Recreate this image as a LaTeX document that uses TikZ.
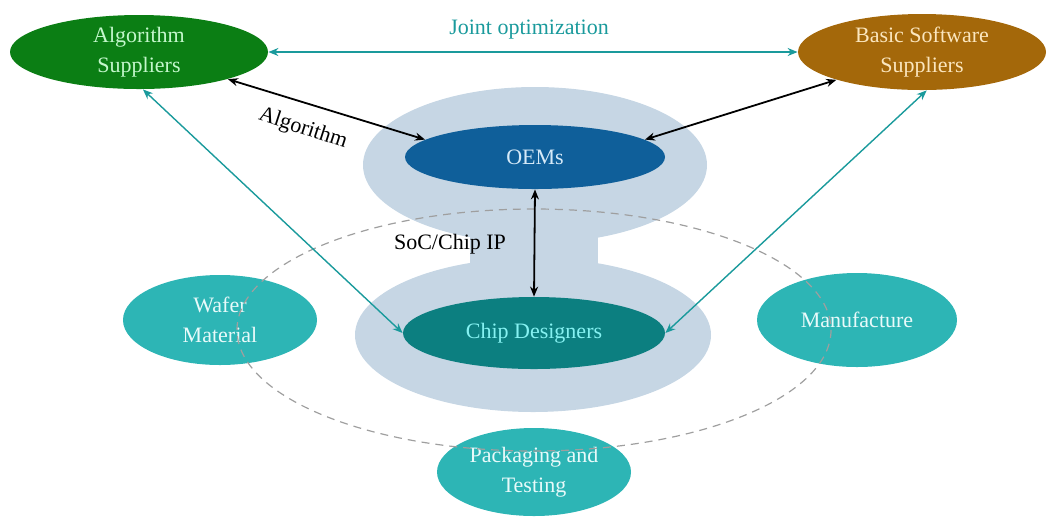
\documentclass[tikz,border=0pt]{standalone}
\usepackage{fontspec}
\setmainfont{Liberation Serif}
\usetikzlibrary{shapes.geometric,arrows.meta}
\definecolor{algGreen}{HTML}{0B7E14}
\definecolor{algText}{HTML}{C4F7CC}
\definecolor{bssBrown}{HTML}{A4680A}
\definecolor{bssText}{HTML}{FBE6BE}
\definecolor{oemBlue}{HTML}{0F5F9A}
\definecolor{oemText}{HTML}{D6EAF8}
\definecolor{cdTeal}{HTML}{0C7F80}
\definecolor{cdText}{HTML}{86F2F2}
\definecolor{sideTeal}{HTML}{2DB5B5}
\definecolor{sideText}{HTML}{E8FAFA}
\definecolor{hubBlue}{HTML}{C6D6E4}
\definecolor{linkTeal}{HTML}{1A9A9C}
\tikzset{
  bubble/.style={ellipse, inner sep=0pt, align=center, font=\fontsize{11}{15}\selectfont},
  link/.style={{Stealth[length=5pt,width=4pt]}-{Stealth[length=5pt,width=4pt]}, line width=0.9pt, black},
  tealink/.style={{Stealth[length=5pt,width=4pt]}-{Stealth[length=5pt,width=4pt]}, line width=0.7pt, linkTeal},
  lbl/.style={font=\fontsize{11}{13}\selectfont}
}
\begin{document}
\begin{tikzpicture}[x=0.5pt,y=-0.5pt]
\useasboundingbox (0,0) rectangle (1049,516);
% light blue hub shape behind OEMs and chip designers
\fill[hubBlue] (535,165) ellipse [x radius=172, y radius=78];
\fill[hubBlue] (533,335) ellipse [x radius=178, y radius=77];
\fill[hubBlue] (470,225) rectangle (598,272);
% side partners
\node[bubble, fill=sideTeal, text=sideText, minimum width=97pt, minimum height=45pt] (wafer) at (220,320) {Wafer\\Material};
\node[bubble, fill=sideTeal, text=sideText, minimum width=100pt, minimum height=47pt] (manu) at (857,320) {Manufacture};
\node[bubble, fill=sideTeal, text=sideText, minimum width=97pt, minimum height=44pt] (pack) at (534,472) {Packaging and\\Testing};
% dashed ring of the supply chain
\draw[gray!75, dashed, dash pattern=on 4pt off 3pt, line width=0.6pt] (534,330) ellipse [x radius=297, y radius=121];
% core players
\node[bubble, fill=algGreen, text=algText, minimum width=129pt, minimum height=37pt] (alg) at (139,52) {Algorithm\\Suppliers};
\node[bubble, fill=bssBrown, text=bssText, minimum width=124pt, minimum height=38pt] (bss) at (922,52) {Basic Software\\Suppliers};
\node[bubble, fill=oemBlue, text=oemText, minimum width=130pt, minimum height=32pt] (oem) at (535,157) {OEMs};
\node[bubble, fill=cdTeal, text=cdText, minimum width=131pt, minimum height=36pt] (cd) at (534,333) {Chip Designers};
% connectors
\draw[tealink] (alg.east) -- (bss.west);
\node[lbl, text=linkTeal] (joint) at (529,30) {Joint optimization};
\draw[link] (alg.-17) -- (oem.171);
\node[lbl, rotate=-18] (algo) at (303,129) {Algorithm};
\draw[link] (bss.198) -- (oem.9);
\draw[link] (oem.south) -- (cd.north);
\node[lbl] (soc) at (450,244) {SoC/Chip IP};
\draw[tealink] (alg.-84) -- (cd.west);
\draw[tealink] (bss.-83) -- (cd.east);
\end{tikzpicture}
\end{document}
